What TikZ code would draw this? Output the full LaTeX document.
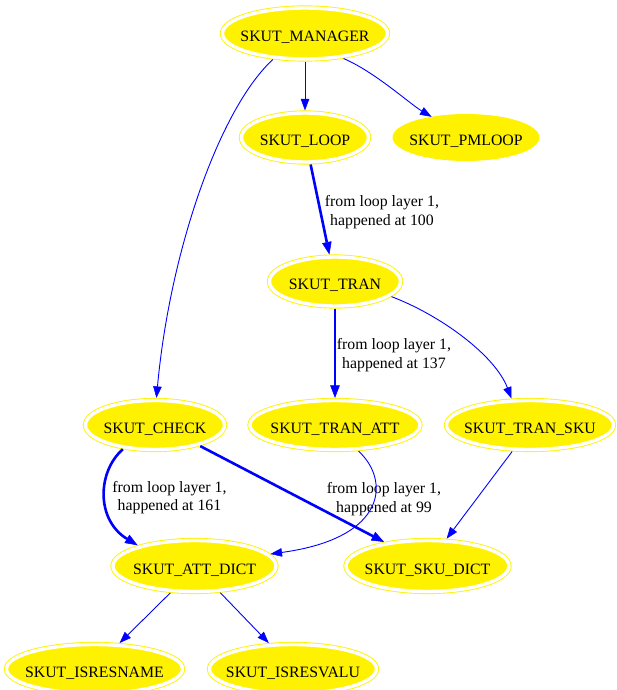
\documentclass[tikz,border=0pt]{standalone}
\usepackage{fontspec}
\setmainfont{Liberation Serif}
\usetikzlibrary{arrows.meta,shapes.geometric}

% zero-width box so the ellipse size comes from minimum width/height only
\newcommand{\nm}[1]{\makebox[0pt]{#1}}

\tikzset{
  gfont/.style={font=\fontsize{15.8}{18.5}\selectfont},
  % yellow ellipse with a second, outer periphery
  gnode/.style={ellipse, gfont, draw=yellow, fill=yellow, line width=0.9pt,
    double=white, double distance=3.4pt, inner sep=0pt, outer sep=2.6pt,
    text height=16pt, text depth=0pt},
  % plain yellow ellipse
  pnode/.style={ellipse, gfont, draw=yellow, fill=yellow, line width=0.9pt,
    inner sep=0pt, outer sep=0.45pt, text height=16pt, text depth=0pt},
  wh/.style n args={2}{minimum width=#1pt, minimum height=#2pt},
  lightedge/.style={draw=blue, line width=0.9pt,
    -{Triangle[length=11.5pt, width=8.5pt, line width=0.5pt]}},
  heavyedge/.style={draw=blue, line width=2.6pt,
    -{Triangle[length=12.5pt, width=9.5pt, line width=0.5pt]}},
  elabel/.style={gfont, align=center, inner sep=0pt},
}

\begin{document}
\begin{tikzpicture}[x=1pt, y=-1pt]
  \useasboundingbox (0,0) rectangle (616,690);

  % nodes
  \node[gnode, wh={165}{51}]   (man)  at (305,33.5)  {\nm{SKUT\_MANAGER}};
  \node[gnode, wh={127}{49}]   (loop) at (305,137.5) {\nm{SKUT\_LOOP}};
  \node[pnode, wh={146}{46}]   (pml)  at (466,137.5) {\nm{SKUT\_PMLOOP}};
  \node[gnode, wh={131}{49}]   (tran) at (335,281.5) {\nm{SKUT\_TRAN}};
  \node[gnode, wh={139}{49}]   (check) at (155,425)  {\nm{SKUT\_CHECK}};
  \node[gnode, wh={170}{49}]   (tatt) at (335,425)   {\nm{SKUT\_TRAN\_ATT}};
  \node[gnode, wh={167}{49}]   (tsku) at (530,425)   {\nm{SKUT\_TRAN\_SKU}};
  \node[gnode, wh={163}{51}]   (attd) at (194.5,566) {\nm{SKUT\_ATT\_DICT}};
  \node[gnode, wh={163}{51}]   (skud) at (427.5,566) {\nm{SKUT\_SKU\_DICT}};
  \node[gnode, wh={176}{49}]   (isn)  at (94.5,669)  {\nm{SKUT\_ISRESNAME}};
  \node[gnode, wh={167}{49}]   (isv)  at (293,669)   {\nm{SKUT\_ISRESVALU}};

  % edge labels
  \node[elabel] (lb1) at (382,212)     {from loop layer 1,\\happened at 100};
  \node[elabel] (lb2) at (394,355)     {from loop layer 1,\\happened at 137};
  \node[elabel] (lb3) at (169.5,497.5) {from loop layer 1,\\happened at 161};
  \node[elabel] (lb4) at (384,499)     {from loop layer 1,\\happened at 99};

  % edges
  \draw[lightedge] (man) -- (loop);
  \draw[lightedge] (man.-33) .. controls (375,72) and (410,104) .. (pml.149);
  \draw[lightedge] (man.219) .. controls (220,108) and (170,250) .. (check.87);
  \draw[heavyedge] (loop) -- (tran);
  \draw[heavyedge] (tran) -- (tatt);
  \draw[lightedge] (tran.-15) .. controls (440,315) and (495,355) .. (tsku.125);
  \draw[heavyedge] (check.217) .. controls (97,472) and (96,520) .. (attd.160);
  \draw[heavyedge] (check.-25) -- (skud.151);
  \draw[lightedge] (tatt.-48) .. controls (390,480) and (388,538) .. (attd.9);
  \draw[lightedge] (tsku.236) -- (skud.55);
  \draw[lightedge] (attd.228) -- (isn.46);
  \draw[lightedge] (attd.-46) -- (isv.133);
\end{tikzpicture}
\end{document}
